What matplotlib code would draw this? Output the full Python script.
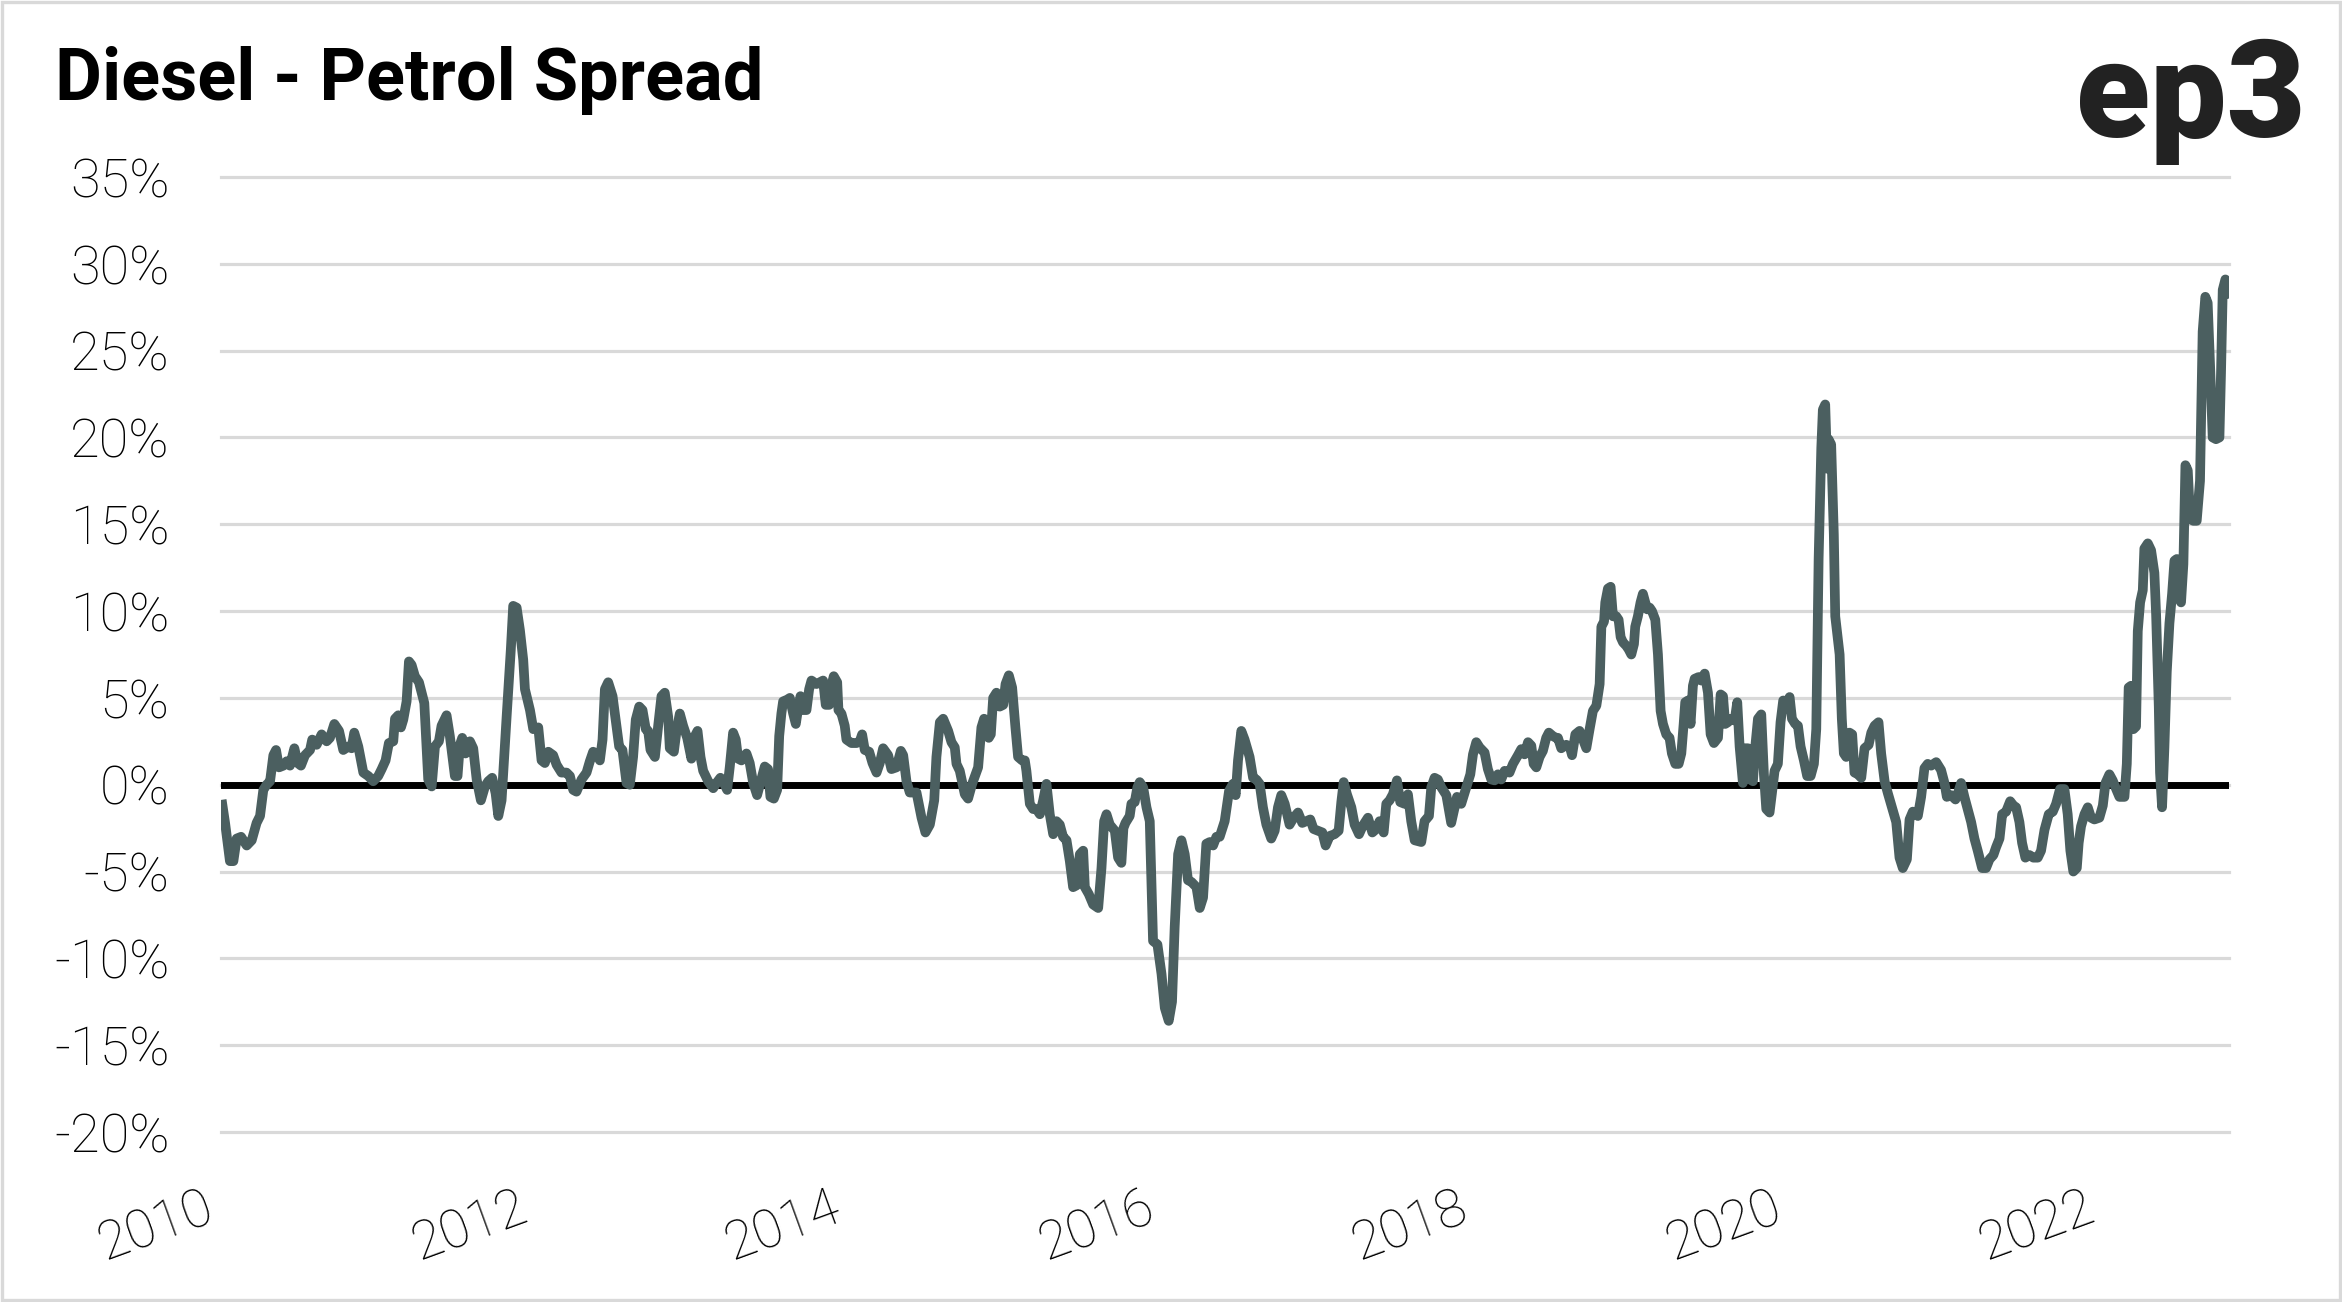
import matplotlib
matplotlib.use("Agg")
import matplotlib.pyplot as plt
from matplotlib.patches import Rectangle

# ---------------- data (decimal year, spread %) ----------------
seg_2010_2012 = [
    (2010.004, -0.87), (2010.026, -2.2), (2010.057, -4.4), (2010.079, -4.4), (2010.100, -3.1),
    (2010.128, -3.0), (2010.164, -3.5), (2010.196, -3.2), (2010.227, -2.2), (2010.249, -1.8),
    (2010.270, -0.3), (2010.291, 0.0), (2010.313, 0.2), (2010.334, 1.7), (2010.351, 2.0),
    (2010.370, 1.0), (2010.398, 1.1), (2010.419, 1.35), (2010.440, 1.1), (2010.468, 2.1),
    (2010.489, 1.25), (2010.510, 1.1), (2010.536, 1.7), (2010.568, 2.0), (2010.582, 2.6),
    (2010.610, 2.3), (2010.642, 2.9), (2010.674, 2.5), (2010.695, 2.7), (2010.723, 3.5),
    (2010.753, 3.1), (2010.780, 2.0), (2010.812, 2.2), (2010.833, 2.1), (2010.850, 3.0),
    (2010.876, 2.2), (2010.908, 0.7), (2010.940, 0.5), (2010.971, 0.2), (2011.003, 0.5),
    (2011.025, 0.9), (2011.050, 1.4), (2011.071, 2.4), (2011.099, 2.5), (2011.110, 3.8),
    (2011.131, 4.0), (2011.148, 3.3), (2011.163, 3.75), (2011.184, 4.8), (2011.199, 7.1),
    (2011.216, 6.9), (2011.237, 6.25), (2011.263, 5.9), (2011.297, 4.7), (2011.322, 0.3),
    (2011.344, -0.1), (2011.365, 2.2), (2011.390, 2.5), (2011.407, 3.4), (2011.439, 4.0),
    (2011.460, 2.8), (2011.492, 0.5), (2011.509, 0.5), (2011.524, 2.3), (2011.539, 2.7),
    (2011.560, 1.8), (2011.588, 2.5), (2011.609, 2.1), (2011.631, 0.3), (2011.658, -0.9),
    (2011.684, -0.1), (2011.705, 0.2), (2011.730, 0.4), (2011.752, -0.5), (2011.769, -1.8),
    (2011.790, -0.9), (2011.822, 3.9), (2011.849, 7.8), (2011.864, 10.3), (2011.886, 10.2),
    (2011.907, 8.9), (2011.928, 7.2), (2011.939, 5.5), (2011.971, 4.3), (2011.992, 3.2),
    (2012.024, 3.3), (2012.045, 1.4), (2012.066, 1.25), (2012.088, 1.9),
]

seg_2012_2014 = [
    (2012.119, 1.7), (2012.141, 1.15), (2012.172, 0.7), (2012.204, 0.7), (2012.226, 0.5),
    (2012.247, -0.3), (2012.268, -0.4), (2012.300, 0.3), (2012.332, 0.7), (2012.353, 1.35),
    (2012.374, 1.9), (2012.396, 1.8), (2012.417, 1.4), (2012.434, 2.6), (2012.449, 5.5),
    (2012.470, 5.9), (2012.498, 5.1), (2012.523, 3.4), (2012.540, 2.2), (2012.561, 2.0),
    (2012.587, 0.1), (2012.608, 0.0), (2012.629, 1.6), (2012.646, 3.75), (2012.668, 4.5),
    (2012.689, 4.3), (2012.710, 3.2), (2012.725, 3.1), (2012.740, 2.0), (2012.768, 1.6),
    (2012.789, 3.4), (2012.810, 5.1), (2012.831, 5.3), (2012.853, 3.9), (2012.863, 2.1),
    (2012.889, 1.9), (2012.906, 3.1), (2012.927, 4.1), (2012.948, 3.4), (2012.974, 2.7),
    (2013.001, 1.5), (2013.023, 2.8), (2013.040, 3.1), (2013.059, 1.6), (2013.076, 0.8),
    (2013.108, 0.2), (2013.140, -0.2), (2013.161, 0.1), (2013.186, 0.4), (2013.208, 0.1),
    (2013.229, -0.3), (2013.246, 1.05), (2013.267, 3.0), (2013.284, 2.6), (2013.299, 1.5),
    (2013.320, 1.4), (2013.352, 1.8), (2013.373, 1.25), (2013.395, 0.1), (2013.420, -0.6),
    (2013.441, 0.1), (2013.469, 1.05), (2013.490, 0.9), (2013.505, -0.7), (2013.527, -0.8),
    (2013.548, -0.3), (2013.561, 2.8), (2013.575, 4.1), (2013.586, 4.8), (2013.612, 4.9),
    (2013.629, 5.0), (2013.650, 4.1), (2013.667, 3.5), (2013.682, 4.4), (2013.697, 5.1),
    (2013.714, 4.3), (2013.735, 4.3), (2013.752, 5.5), (2013.767, 6.0), (2013.799, 5.8),
    (2013.820, 5.9), (2013.841, 6.0), (2013.858, 4.6), (2013.880, 4.6), (2013.894, 5.7),
    (2013.909, 6.25), (2013.931, 5.9), (2013.939, 4.3), (2013.958, 4.1), (2013.979, 3.4),
    (2013.990, 2.6), (2014.022, 2.4), (2014.054, 2.4), (2014.075, 2.5), (2014.090, 2.9),
    (2014.107, 2.0), (2014.135, 1.9), (2014.156, 1.25), (2014.182, 0.7), (2014.203, 1.25),
    (2014.224, 2.1),
]

seg_2014_2016 = [
    (2014.256, 1.7), (2014.277, 0.9), (2014.309, 1.0), (2014.337, 1.95), (2014.352, 1.7),
    (2014.373, 0.2), (2014.394, -0.45), (2014.437, -0.45), (2014.469, -1.9), (2014.494, -2.75),
    (2014.522, -2.3), (2014.550, -0.9), (2014.564, 1.6), (2014.586, 3.6), (2014.607, 3.8),
    (2014.639, 3.1), (2014.660, 2.45), (2014.681, 2.15), (2014.692, 1.2), (2014.713, 0.8),
    (2014.745, -0.55), (2014.766, -0.8), (2014.792, 0.05), (2014.830, 1.0), (2014.851, 3.3),
    (2014.868, 3.8), (2014.883, 3.7), (2014.898, 2.7), (2014.911, 2.9), (2014.926, 5.0),
    (2014.947, 5.3), (2014.968, 4.5), (2014.990, 4.6), (2015.005, 5.8), (2015.026, 6.3),
    (2015.047, 5.6), (2015.068, 3.3), (2015.085, 1.6), (2015.111, 1.4), (2015.128, 1.4),
    (2015.138, 0.8), (2015.160, -1.1), (2015.181, -1.4), (2015.202, -1.4), (2015.224, -1.7),
    (2015.245, -0.9), (2015.266, 0.05), (2015.287, -1.7), (2015.309, -2.85), (2015.330, -2.1),
    (2015.351, -2.3), (2015.372, -3.0), (2015.394, -3.2), (2015.415, -4.4), (2015.436, -5.9),
    (2015.457, -5.8), (2015.479, -4.0), (2015.500, -3.8), (2015.511, -5.9), (2015.536, -6.3),
    (2015.564, -6.9), (2015.596, -7.1), (2015.617, -4.8), (2015.634, -2.1), (2015.649, -1.7),
    (2015.670, -2.3), (2015.702, -2.65), (2015.723, -4.2), (2015.744, -4.5), (2015.757, -2.5),
    (2015.770, -2.2), (2015.797, -1.8), (2015.808, -1.1), (2015.829, -1.0), (2015.846, -0.15),
    (2015.861, 0.15), (2015.883, -0.15), (2015.904, -1.3), (2015.925, -2.1), (2015.946, -9.0),
    (2015.974, -9.2), (2016.000, -10.9), (2016.021, -12.85), (2016.046, -13.6), (2016.067, -12.5),
    (2016.084, -8.2), (2016.106, -4.0), (2016.127, -3.2), (2016.148, -4.0), (2016.169, -5.5),
    (2016.191, -5.6), (2016.223, -5.9), (2016.244, -7.1), (2016.265, -6.5), (2016.286, -3.4),
    (2016.308, -3.3), (2016.329, -3.5), (2016.350, -3.0),
]

seg_2016_2018 = [
    (2016.371, -3.0), (2016.403, -2.1), (2016.431, -0.35), (2016.456, 0.05), (2016.473, -0.6),
    (2016.488, 1.4), (2016.509, 3.1), (2016.530, 2.6), (2016.562, 1.6), (2016.584, 0.4),
    (2016.605, 0.3), (2016.626, 0.05), (2016.647, -1.3), (2016.669, -2.3), (2016.700, -3.1),
    (2016.722, -2.65), (2016.743, -1.3), (2016.764, -0.6), (2016.786, -1.1), (2016.817, -2.3),
    (2016.843, -1.9), (2016.871, -1.6), (2016.898, -2.2), (2016.924, -2.1), (2016.949, -2.0),
    (2016.970, -2.55), (2016.998, -2.65), (2017.026, -2.75), (2017.047, -3.5), (2017.073, -2.95),
    (2017.104, -2.85), (2017.130, -2.65), (2017.147, -1.0), (2017.162, 0.15), (2017.183, -0.55),
    (2017.211, -1.3), (2017.232, -2.3), (2017.260, -2.85), (2017.285, -2.35), (2017.317, -1.9),
    (2017.345, -2.75), (2017.370, -2.55), (2017.391, -2.1), (2017.417, -2.75), (2017.434, -1.1),
    (2017.455, -0.9), (2017.476, -0.55), (2017.502, 0.25), (2017.523, -1.0), (2017.551, -1.1),
    (2017.572, -0.55), (2017.593, -2.1), (2017.615, -3.2), (2017.657, -3.3), (2017.678, -2.1),
    (2017.706, -1.8), (2017.721, -0.15), (2017.742, 0.4), (2017.763, 0.3), (2017.785, -0.15),
    (2017.817, -0.6), (2017.848, -2.2), (2017.870, -1.3), (2017.885, -0.7), (2017.912, -1.1),
    (2017.944, -0.15), (2017.970, 0.6), (2017.987, 1.75), (2018.008, 2.45), (2018.029, 2.15),
    (2018.061, 1.85), (2018.082, 0.9), (2018.104, 0.3), (2018.125, 0.25), (2018.146, 0.6),
    (2018.167, 0.3), (2018.189, 0.8), (2018.220, 0.7), (2018.242, 1.2), (2018.274, 1.7),
    (2018.295, 2.05), (2018.316, 1.75), (2018.338, 2.45), (2018.359, 2.25), (2018.374, 1.2),
    (2018.391, 1.0), (2018.412, 1.6), (2018.433, 1.95), (2018.454, 2.7), (2018.471, 3.0),
    (2018.497, 2.8), (2018.518, 2.7),
]

seg_2018_2020 = [
    (2018.529, 2.7), (2018.550, 2.1), (2018.582, 2.3), (2018.604, 2.2), (2018.619, 1.7),
    (2018.640, 2.9), (2018.667, 3.1), (2018.689, 2.6), (2018.710, 2.1), (2018.731, 3.2),
    (2018.752, 4.25), (2018.774, 4.55), (2018.795, 5.8), (2018.806, 9.1), (2018.823, 9.4),
    (2018.831, 10.5), (2018.848, 11.3), (2018.865, 11.4), (2018.880, 9.7), (2018.901, 9.7),
    (2018.916, 9.5), (2018.929, 8.5), (2018.944, 8.2), (2018.965, 8.0), (2018.980, 7.8),
    (2018.997, 7.5), (2019.014, 8.1), (2019.022, 9.1), (2019.039, 9.7), (2019.056, 10.5),
    (2019.071, 11.0), (2019.086, 10.5), (2019.099, 10.1), (2019.114, 10.2), (2019.129, 10.0),
    (2019.150, 9.5), (2019.167, 7.5), (2019.184, 4.25), (2019.199, 3.5), (2019.220, 2.9),
    (2019.241, 2.7), (2019.256, 1.8), (2019.278, 1.2), (2019.299, 1.2), (2019.316, 1.8),
    (2019.331, 3.5), (2019.341, 4.75), (2019.358, 4.85), (2019.375, 3.5), (2019.390, 5.7),
    (2019.401, 6.1), (2019.426, 6.2), (2019.443, 6.0), (2019.465, 6.4), (2019.486, 5.3),
    (2019.503, 2.9), (2019.524, 2.4), (2019.550, 2.7), (2019.567, 5.2), (2019.582, 5.1),
    (2019.596, 3.5), (2019.613, 3.6), (2019.635, 3.8), (2019.656, 3.7), (2019.673, 4.75),
    (2019.688, 2.2), (2019.709, 0.1), (2019.724, 2.1), (2019.741, 2.1), (2019.756, 0.3),
    (2019.773, 0.2), (2019.788, 2.2), (2019.805, 3.8), (2019.826, 4.05), (2019.843, 0.6),
    (2019.858, -1.4), (2019.879, -1.6), (2019.894, -0.5), (2019.911, 0.8), (2019.932, 1.2),
    (2019.949, 3.6), (2019.966, 4.85), (2019.985, 4.65), (2020.007, 5.05), (2020.022, 3.8),
    (2020.043, 3.5), (2020.060, 3.4), (2020.077, 2.2), (2020.098, 1.4), (2020.119, 0.5),
    (2020.141, 0.5), (2020.162, 1.2), (2020.177, 3.2), (2020.192, 13.0), (2020.209, 19.4),
    (2020.219, 21.6), (2020.234, 21.9), (2020.247, 18.2), (2020.255, 19.9), (2020.272, 19.6),
    (2020.289, 14.4), (2020.298, 9.7), (2020.326, 7.5), (2020.340, 3.8), (2020.353, 1.8),
    (2020.368, 1.6), (2020.389, 3.0), (2020.406, 2.9), (2020.421, 0.7), (2020.443, 0.6),
    (2020.464, 0.4), (2020.485, 2.1), (2020.511, 2.3), (2020.528, 3.0), (2020.549, 3.4),
    (2020.574, 3.6), (2020.591, 1.8), (2020.613, 0.2), (2020.634, -0.5),
]

seg_2020_2022 = [
    (2020.660, -1.3), (2020.687, -2.15), (2020.708, -4.2), (2020.729, -4.8), (2020.755, -4.3),
    (2020.772, -2.0), (2020.793, -1.55), (2020.825, -1.8), (2020.846, -0.7), (2020.867, 0.95),
    (2020.888, 1.2), (2020.910, 1.1), (2020.942, 1.3), (2020.973, 0.85), (2020.995, 0.1),
    (2021.010, -0.7), (2021.037, -0.6), (2021.065, -0.85), (2021.080, -0.5), (2021.101, 0.1),
    (2021.122, -0.7), (2021.144, -1.45), (2021.165, -2.15), (2021.186, -3.1), (2021.207, -3.8),
    (2021.235, -4.8), (2021.260, -4.8), (2021.282, -4.3), (2021.307, -4.05), (2021.324, -3.6),
    (2021.346, -3.1), (2021.363, -1.7), (2021.388, -1.55), (2021.414, -0.95), (2021.435, -1.2),
    (2021.452, -1.3), (2021.473, -2.15), (2021.490, -3.35), (2021.511, -4.2), (2021.537, -4.05),
    (2021.562, -4.2), (2021.590, -4.2), (2021.611, -3.8), (2021.633, -2.6), (2021.660, -1.7),
    (2021.686, -1.55), (2021.707, -1.1), (2021.732, -0.25), (2021.760, -0.25), (2021.781, -1.7),
    (2021.798, -3.8), (2021.817, -5.0), (2021.839, -4.8), (2021.851, -3.35), (2021.866, -2.4),
    (2021.888, -1.7), (2021.909, -1.3), (2021.930, -1.9), (2021.951, -2.0), (2021.983, -1.9),
    (2022.005, -1.2), (2022.022, 0.1), (2022.047, 0.6), (2022.068, 0.25), (2022.090, -0.25),
    (2022.111, -0.7), (2022.143, -0.7), (2022.158, 1.2), (2022.170, 5.6), (2022.185, 5.7),
    (2022.200, 3.2), (2022.217, 3.35), (2022.228, 8.85), (2022.243, 10.5), (2022.260, 11.2),
    (2022.270, 13.6), (2022.292, 13.9), (2022.313, 13.5), (2022.334, 12.2), (2022.345, 9.8),
    (2022.362, 4.5), (2022.370, 0.7), (2022.383, -1.3), (2022.398, 2.15), (2022.413, 6.5),
    (2022.430, 9.3), (2022.447, 11.0), (2022.462, 12.9), (2022.477, 13.0), (2022.489, 10.8),
    (2022.504, 10.5), (2022.519, 12.7), (2022.532, 18.4), (2022.547, 18.1), (2022.562, 15.3),
    (2022.583, 15.2), (2022.604, 15.2), (2022.625, 17.5), (2022.642, 26.1), (2022.659, 28.1),
    (2022.674, 27.75), (2022.689, 24.2), (2022.706, 20.0), (2022.727, 19.9), (2022.749, 20.0),
    (2022.759, 23.7), (2022.770, 28.5), (2022.787, 29.1), (2022.802, 28.8), (2022.812, 28.0),
]

y_ticks = [35, 30, 25, 20, 15, 10, 5, 0, -5, -10, -15, -20]
x_ticks = [2010, 2012, 2014, 2016, 2018, 2020, 2022]
title_text = "Diesel - Petrol Spread"
logo_text = "ep3"

segments = [seg_2010_2012, seg_2012_2014, seg_2014_2016,
            seg_2016_2018, seg_2018_2020, seg_2020_2022]
years = [p[0] for s in segments for p in s]
spread = [p[1] for s in segments for p in s]

# ---------------- figure ----------------
W, H, DPI = 2342, 1302, 100
fig = plt.figure(figsize=(W / DPI, H / DPI), dpi=DPI)
fig.patch.set_facecolor("white")

left, right, top, bottom = 221, 2229, 177, 1132
ax = fig.add_axes([left / W, 1 - bottom / H, (right - left) / W, (bottom - top) / H])

LINE = "#4b5f60"
GRID = "#d9d9d9"
TICK_FONT = dict(family=["Roboto", "DejaVu Sans"], weight="light")

ax.set_xlim(2010, 2022.81)
ax.set_ylim(-20, 35)
ax.set_yticks(y_ticks)
ax.set_yticklabels([f"{t}%" for t in y_ticks], fontsize=39, color="black", **TICK_FONT)
ax.set_xticks(x_ticks)
ax.set_xticklabels([str(t) for t in x_ticks], fontsize=39, color="black",
                   rotation=20, ha="right", va="top", **TICK_FONT)
ax.tick_params(axis="both", length=0)
ax.tick_params(axis="y", pad=37)
ax.tick_params(axis="x", pad=36)
for s in ax.spines.values():
    s.set_visible(False)

ax.grid(axis="y", color=GRID, linewidth=2.3, zorder=0)
for gl in ax.get_ygridlines():
    gl.set_clip_on(False)
ax.set_axisbelow(True)

ax.axhline(0, color="black", linewidth=5.0, zorder=2)
ax.plot(years, spread, color=LINE, linewidth=7.0, solid_joinstyle="round",
        solid_capstyle="butt", zorder=3)

# title & logo
fig.text(55 / W, 1 - 100 / H, title_text, fontsize=52, weight="bold",
         family=["Roboto", "DejaVu Sans"], color="black", ha="left", va="baseline")
fig.text(2306 / W, 1 - 137 / H, logo_text, fontsize=98, weight="black",
         family=["Roboto", "DejaVu Sans"], color="#222222", ha="right", va="baseline")

# outer frame
fig.add_artist(Rectangle((2 / W, 2 / H), (W - 4) / W, (H - 4) / H, transform=fig.transFigure,
                         fill=False, edgecolor=GRID, linewidth=2.4))

fig.savefig("out.png", dpi=DPI, facecolor="white")
